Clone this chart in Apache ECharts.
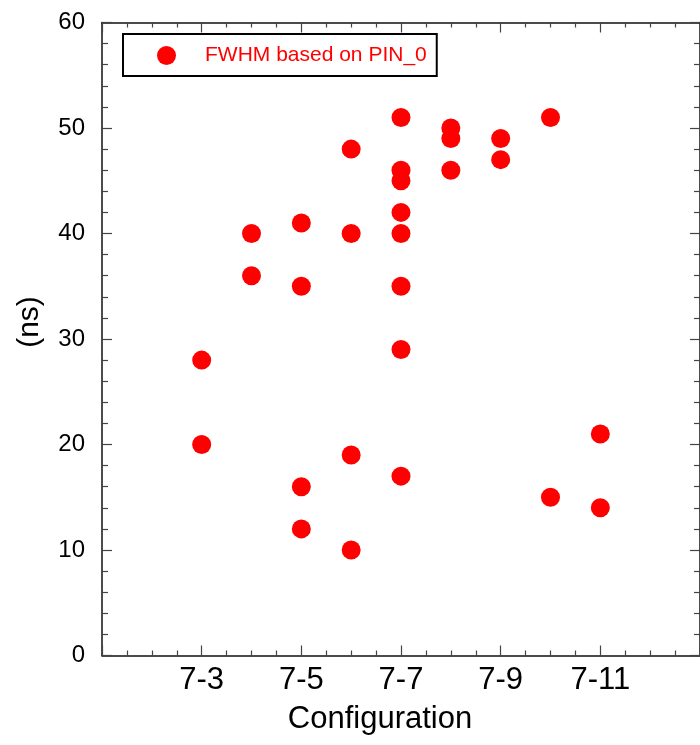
<!DOCTYPE html>
<html>
<head>
<meta charset="utf-8">
<script src="https://cdn.jsdelivr.net/npm/echarts@6/dist/echarts.min.js"></script>
<style>html,body{margin:0;padding:0;background:#fff}#c{width:700px;height:745px}</style>
</head>
<body>
<div id="c"></div>
<script>
// Configurations "7-N" and their FWHM values (ns)
var configs = ['7-3','7-4','7-5','7-6','7-7','7-8','7-9','7-10','7-11'];
var fwhm_7_3  = [28, 20];
var fwhm_7_4  = [40, 36];
var fwhm_7_5  = [41, 35, 16, 12];
var fwhm_7_6  = [48, 40, 19, 10];
var fwhm_7_7  = [51, 46, 45, 42, 40, 35, 29, 17];
var fwhm_7_8  = [50, 49, 46];
var fwhm_7_9  = [49, 47];
var fwhm_7_10 = [51, 15];
var fwhm_7_11 = [21, 14];
var valuesByConfig = [fwhm_7_3, fwhm_7_4, fwhm_7_5, fwhm_7_6, fwhm_7_7, fwhm_7_8, fwhm_7_9, fwhm_7_10, fwhm_7_11];
var xTickLabels = ['7-3','7-5','7-7','7-9','7-11'];
var yTickLabels = ['0','10','20','30','40','50','60'];
var seriesName = 'FWHM based on PIN_0';

var pts = [];
configs.forEach(function (c, i) {
  var x = parseInt(c.split('-')[1], 10);
  valuesByConfig[i].forEach(function (v) { pts.push([x, v]); });
});

var font = '"Liberation Sans", Arial, Helvetica, sans-serif';
var chart = echarts.init(document.getElementById('c'), null, {renderer: 'canvas'});
function axisLine() { return {show: true, onZero: false, lineStyle: {color: '#111', width: 1.5}}; }
function majorTick() { return {show: true, inside: true, length: 10, lineStyle: {color: '#444', width: 1.2}}; }
function minorTick(n, len) { return {show: true, splitNumber: n, length: len, lineStyle: {color: '#444', width: 1.2}}; }

chart.setOption({
  animation: false,
  backgroundColor: '#fff',
  grid: {left: 102, top: 22.5, width: 600, height: 633, containLabel: false},
  legend: {
    left: 123, top: 34,
    orient: 'horizontal',
    padding: [11, 10, 10, 34],
    itemWidth: 19, itemHeight: 19,
    borderColor: '#000', borderWidth: 2,
    backgroundColor: '#fff',
    textStyle: {color: '#ff0000', fontSize: 21, fontFamily: font, padding: [0, 0, 0, 24]},
    data: [{name: seriesName, icon: 'circle'}]
  },
  xAxis: [{
    type: 'value', min: 1, max: 13, interval: 2, position: 'bottom',
    axisLine: axisLine(), axisTick: majorTick(), minorTick: minorTick(4, 5),
    splitLine: {show: false},
    axisLabel: {
      fontSize: 31, color: '#000', fontFamily: font, margin: 9,
      showMinLabel: false, showMaxLabel: false,
      formatter: function (v) { var s = '7-' + v; return xTickLabels.indexOf(s) >= 0 ? s : ''; }
    }
  }, {
    type: 'value', min: 1, max: 13, interval: 2, position: 'top',
    axisLine: axisLine(), axisTick: majorTick(), minorTick: minorTick(4, 5),
    splitLine: {show: false}, axisLabel: {show: false}
  }],
  yAxis: [{
    type: 'value', min: 0, max: 60, interval: 10, position: 'left',
    axisLine: axisLine(), axisTick: majorTick(), minorTick: minorTick(5, 6),
    splitLine: {show: false},
    axisLabel: {
      fontSize: 24, color: '#000', fontFamily: font, margin: 17,
      formatter: function (v) { var s = String(v); return yTickLabels.indexOf(s) >= 0 ? s : ''; }
    }
  }, {
    type: 'value', min: 0, max: 60, interval: 10, position: 'right',
    axisLine: axisLine(), axisTick: majorTick(), minorTick: minorTick(5, 6),
    splitLine: {show: false}, axisLabel: {show: false}
  }],
  graphic: [{
    type: 'text', x: 380, y: 719,
    style: {text: 'Configuration', fontSize: 31, fontFamily: font, fill: '#000',
            x: 0, y: 0, textAlign: 'center', textVerticalAlign: 'middle'}
  }, {
    type: 'text', x: 30, y: 322, rotation: Math.PI / 2,
    style: {text: '(ns)', fontSize: 30, fontFamily: font, fill: '#000',
            x: 0, y: 0, textAlign: 'center', textVerticalAlign: 'middle'}
  }],
  series: [{
    name: seriesName, type: 'scatter', xAxisIndex: 0, yAxisIndex: 0,
    symbol: 'circle', symbolSize: 19,
    itemStyle: {color: '#ff0000', opacity: 1},
    data: pts
  }]
});
</script>
</body>
</html>
